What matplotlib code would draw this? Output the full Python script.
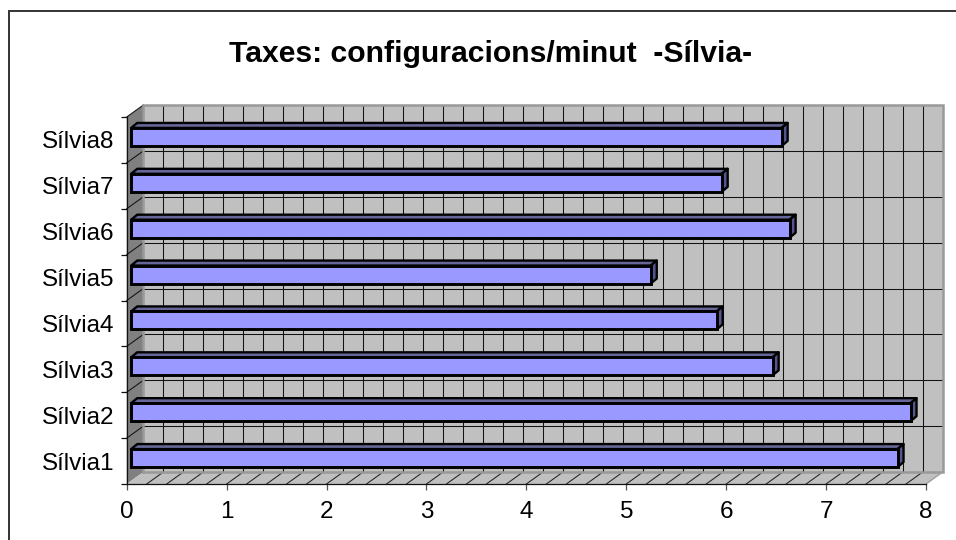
import matplotlib
matplotlib.use("Agg")
import matplotlib.pyplot as plt
from matplotlib.lines import Line2D
import numpy as np

categories = ["Sílvia1", "Sílvia2", "Sílvia3", "Sílvia4", "Sílvia5", "Sílvia6", "Sílvia7", "Sílvia8"]
values = [7.67, 7.80, 6.42, 5.86, 5.20, 6.59, 5.91, 6.51]
x_ticks = [0, 1, 2, 3, 4, 5, 6, 7, 8]
title = "Taxes: configuracions/minut  -Sílvia-"

W, H = 956, 540
plt.rcParams['font.family'] = ['Liberation Sans', 'DejaVu Sans']
fig = plt.figure(figsize=(W / 100, H / 100), dpi=100, facecolor='white')

# front plane of the pseudo-3D box, in pixels
L, R, T, B = 126.7, 926.0, 117.0, 484.0
ax = fig.add_axes([L / W, 1 - B / H, (R - L) / W, (B - T) / H])
ax.set_xlim(0, 8)
ax.set_ylim(-0.5, 7.5)
ax.patch.set_visible(False)

px_x = 8 / (R - L)          # data units per pixel
px_y = 8 / (B - T)
DX, DY = 16.7 * px_x, 12 * px_y   # box depth
bx0 = 4.5 * px_x            # bar inset from the axis
bdx, bdy = 6 * px_x, 5 * px_y     # bar depth
bh = 18 * px_y
bc = 3 * px_y

y0, y1 = -0.5, 7.5
# walls and floor
ax.fill([0, DX, DX, 0], [y0, y0 + DY, y1 + DY, y1], fc='#808080', ec='none', zorder=1, clip_on=False)
ax.fill([DX, 8 + DX, 8 + DX, DX], [y0 + DY, y0 + DY, y1 + DY, y1 + DY], fc='#C0C0C0', ec='none', zorder=1, clip_on=False)
ax.fill([0, 8, 8 + DX, DX], [y0, y0, y0 + DY, y0 + DY], fc='#C0C0C0', ec='none', zorder=1, clip_on=False)

# gridlines
grid = np.arange(0.2, 8.0, 0.2)
for g in grid:
    ax.plot([g + DX, g + DX], [y0 + DY, y1 + DY], color='#111111', lw=0.75, zorder=2, clip_on=False)
    ax.plot([g, g + DX], [y0, y0 + DY], color='#222222', lw=0.75, zorder=2, clip_on=False)
for k in np.arange(y0, y1 + 0.5):
    if y0 < k < y1:
        ax.plot([DX, 8 + DX], [k + DY, k + DY], color='#111111', lw=0.75, zorder=2, clip_on=False)
    if k > y0:
        ax.plot([0, DX], [k, k + DY], color='#111111', lw=0.75, zorder=2, clip_on=False)

# grey box edges
ax.plot([DX, DX, 8 + DX, 8 + DX, DX], [y0 + DY, y1 + DY, y1 + DY, y0 + DY, y0 + DY],
        color='#999999', lw=1.8, zorder=2.5, clip_on=False, solid_joinstyle='miter')
ax.plot([8, 8 + DX], [y0, y0 + DY], color='#A0A0A0', lw=1.0, zorder=2.5, clip_on=False)

# bars
pos = np.arange(len(values))
for p, v in zip(pos, values):
    c = p + bc
    top = c + bh / 2
    bot = c - bh / 2
    xe = bx0 + v
    ax.fill([bx0, xe, xe + bdx, bx0 + bdx], [top, top, top + bdy, top + bdy],
            fc='#666699', ec='black', lw=1.7, zorder=3, clip_on=False, joinstyle='round')
    ax.fill([xe, xe + bdx, xe + bdx, xe], [bot, bot + bdy, top + bdy, top],
            fc='#55558F', ec='black', lw=1.7, zorder=3, clip_on=False, joinstyle='round')
ax.barh(pos + bc, values, left=bx0, height=bh, color='#9999FF', edgecolor='black', linewidth=2.1, zorder=4)

# axes
for s in ('top', 'right'):
    ax.spines[s].set_visible(False)
for s in ('left', 'bottom'):
    ax.spines[s].set_color('#111111')
    ax.spines[s].set_linewidth(0.9)
    ax.spines[s].set_zorder(5)
ax.set_xticks(x_ticks)
ax.set_xticklabels([str(t) for t in x_ticks], fontsize=17.5, color='black')
ax.tick_params(axis='x', length=4, width=0.9, color='#555555', pad=8)
ax.set_yticks(pos)
ax.set_yticklabels(categories, fontsize=17.5, color='black')
ax.tick_params(axis='y', which='major', length=0, pad=9)
ax.set_yticks(np.arange(y0, y1 + 0.5), minor=True)
ax.tick_params(axis='y', which='minor', length=4.5, width=0.9, color='#111111')

# title and chart-area frame
fig.text(490.5 / W, 1 - 54 / H, title, fontsize=21.7, fontweight='bold', ha='center', va='center', color='black')
fig.add_artist(Line2D([8.5 / W, 8.5 / W, 1], [0, 1 - 11 / H, 1 - 11 / H], color='#333333', lw=1.4,
                      solid_joinstyle='miter', solid_capstyle='butt'))

fig.savefig('out.png', dpi=100, facecolor='white')
